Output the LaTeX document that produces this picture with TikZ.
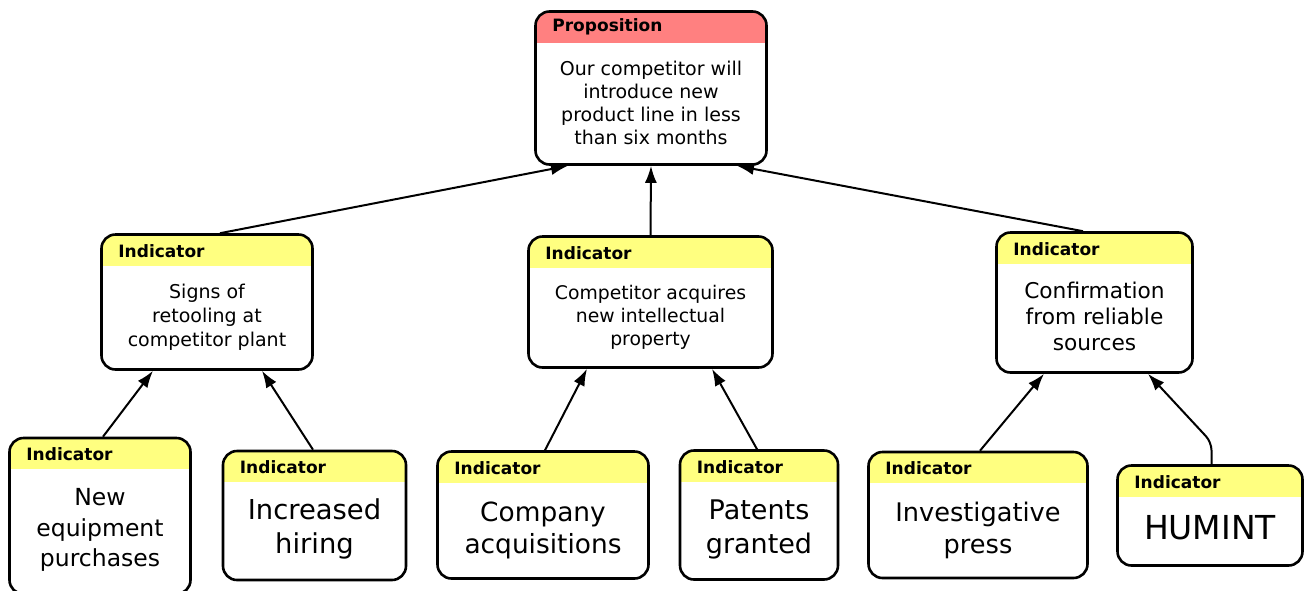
\documentclass[tikz,border=0pt]{standalone}
\usepackage{fontspec}
\setmainfont{DejaVu Sans}
\usetikzlibrary{arrows.meta}
\definecolor{headyellow}{RGB}{255,255,128}
\definecolor{headred}{RGB}{255,128,128}
\begin{document}
\begin{tikzpicture}[x = 1pt, y = -1pt,
  box/.style = {draw, line width = 2.6pt, rounded corners = 14pt, inner sep = 0pt, fill = white,
    path picture = {\fill [#1, sharp corners] (path picture bounding box.north west) rectangle ([yshift = -31pt]path picture bounding box.north east);}},
  box/.default = headyellow,
  head/.style = {anchor = base west, inner sep = 0pt, font = \fontsize{17}{20}\selectfont\bfseries},
  body/.style = {align = center, inner sep = 0pt},
  link/.style = {line width = 2pt, -{Latex[length=17pt,width=12pt]}}]
\useasboundingbox (0,0) rectangle (1304,590);
% boxes
\node [box = headred, minimum width = 231pt, minimum height = 153pt] (prop) at (651,88) {};
\node [box, minimum width = 211pt, minimum height = 135pt] (sign) at (207,302) {};
\node [box, minimum width = 244pt, minimum height = 131pt] (ip) at (650.5,302) {};
\node [box, minimum width = 196pt, minimum height = 140pt] (conf) at (1094.5,302.5) {};
\node [box, minimum width = 181pt, minimum height = 156pt] (equip) at (100,516) {};
\node [box, minimum width = 183pt, minimum height = 129pt] (hire) at (314.5,515.5) {};
\node [box, minimum width = 211pt, minimum height = 127pt] (acq) at (543,515) {};
\node [box, minimum width = 158pt, minimum height = 129pt] (pat) at (759,515) {};
\node [box, minimum width = 219pt, minimum height = 126pt] (press) at (978,515) {};
\node [box, minimum width = 185pt, minimum height = 100pt] (humint) at (1210,515.5) {};
% titles
\node [head] (prop-t) at ([shift = {(18,21)}]prop.north west) {Proposition};
\foreach \n in {sign,ip,conf,equip,hire,acq,pat,press,humint}{
\node [head] (\n-t) at ([shift = {(18,24)}]\n.north west) {Indicator};
}
% texts
\node [body, font = \fontsize{19}{23}\selectfont] (prop-b) at (651,103) {Our competitor will\\introduce new\\product line in less\\than six months};
\node [body, font = \fontsize{19}{24}\selectfont] (sign-b) at (207,317) {Signs of\\retooling at\\competitor plant};
\node [body, font = \fontsize{18.8}{23}\selectfont] (ip-b) at (650.5,317) {Competitor acquires\\new intellectual\\property};
\node [body, font = \fontsize{21.7}{26}\selectfont] (conf-b) at (1094.5,316) {Confirmation\\from reliable\\sources};
\node [body, font = \fontsize{23.5}{30.5}\selectfont] (equip-b) at (100,530) {New\\equipment\\purchases};
\node [body, font = \fontsize{27.4}{34}\selectfont] (hire-b) at (314.5,529) {Increased\\hiring};
\node [body, font = \fontsize{26.4}{32}\selectfont] (acq-b) at (543,530) {Company\\acquisitions};
\node [body, font = \fontsize{27}{34}\selectfont] (pat-b) at (759,529) {Patents\\granted};
\node [body, font = \fontsize{25.6}{32}\selectfont] (press-b) at (978,530) {Investigative\\press};
\node [body, font = \fontsize{33}{38}\selectfont] (humint-b) at (1210,528) {HUMINT};
% links
\draw [link] ([xshift = 13pt]sign.north) -- ([xshift = -83pt]prop.south);
\draw [link] (ip.north) -- (prop.south);
\draw [link] ([xshift = -11.5pt]conf.north) -- ([xshift = 86pt]prop.south);
\draw [link] ([xshift = 3pt]equip.north) -- ([xshift = -54pt]sign.south);
\draw [link] ([xshift = -1.5pt]hire.north) -- ([xshift = 55pt]sign.south);
\draw [link] ([xshift = 2pt]acq.north) -- ([xshift = -63.5pt]ip.south);
\draw [link] ([xshift = -2pt]pat.north) -- ([xshift = 61.5pt]ip.south);
\draw [link] ([xshift = 2pt]press.north) -- ([xshift = -50.5pt]conf.south);
\draw [link, rounded corners = 8pt] ([xshift = 1.5pt]humint.north) -- ++(0,-22) -- ([xshift = 53.5pt]conf.south);
\end{tikzpicture}
\end{document}
